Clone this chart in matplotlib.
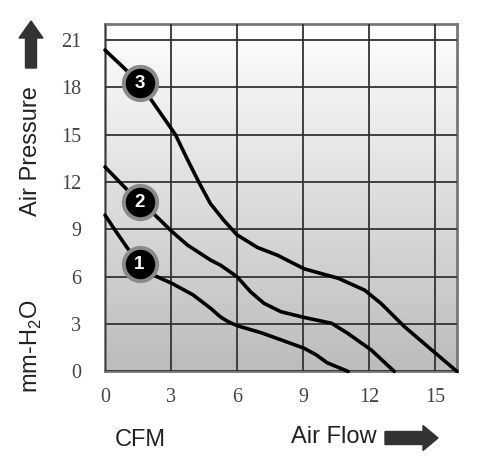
import numpy as np
import matplotlib.pyplot as plt
from matplotlib.colors import LinearSegmentedColormap
from matplotlib.patches import FancyArrow

# fan curves (CFM, mm-H2O)
c1_x = [0, 0.53, 1.0, 1.57, 2.2, 3.05, 4.0, 4.8, 5.25, 5.6, 6.0, 7.1, 8.0, 9.05, 9.6, 10.1, 11.05]
c1_y = [9.9, 8.8, 7.85, 6.8, 6.1, 5.57, 4.85, 4.0, 3.45, 3.15, 2.9, 2.45, 2.0, 1.47, 1.05, 0.55, 0]
c2_x = [0, 0.8, 1.57, 2.2, 3.05, 3.75, 4.8, 5.25, 6.0, 6.62, 7.23, 8.0, 9.05, 10.3, 11.05, 12.1, 13.15]
c2_y = [12.95, 11.8, 10.7, 10.0, 8.85, 8.0, 7.05, 6.73, 6.0, 5.04, 4.31, 3.78, 3.42, 3.05, 2.4, 1.36, 0]
c3_x = [0, 0.8, 1.57, 2.05, 2.6, 3.2, 3.73, 4.26, 4.79, 5.4, 6.0, 6.93, 7.84, 9.05,
        10.6, 11.8, 12.55, 13.6, 14.85, 16.0]
c3_y = [20.35, 19.3, 18.25, 17.3, 16.2, 15.0, 13.47, 12.0, 10.63, 9.57, 8.65, 7.85, 7.36, 6.5,
        5.9, 5.15, 4.3, 2.85, 1.36, 0]

labels = ['1', '2', '3']
label_x = [1.57, 1.57, 1.57]
label_y = [6.8, 10.7, 18.25]

x_ticks = [0, 3, 6, 9, 12, 15]
y_ticks = [0, 3, 6, 9, 12, 15, 18, 21]

fig = plt.figure(figsize=(5, 4.62), dpi=100)
ax = fig.add_axes([0.21, 0.196, 0.704, 0.752])

# grey gradient background
grad = np.linspace(0, 1, 256).reshape(-1, 1)
cmap = LinearSegmentedColormap.from_list('g', ['#bcbcbc', '#ffffff'])
ax.imshow(grad, cmap=cmap, extent=[0, 16, 0, 22], aspect='auto', origin='lower', zorder=0)

ax.set_xlim(0, 16)
ax.set_ylim(0, 22)
ax.set_xticks(x_ticks)
ax.set_yticks(y_ticks)
ax.grid(True, color='#333333', linewidth=1.3, zorder=1)
ax.set_axisbelow(False)
for s in ax.spines.values():
    s.set_color('#777777')
    s.set_linewidth(2)
ax.tick_params(length=0, labelsize=14.5, colors='#444444')
ax.tick_params(axis='x', pad=12)
ax.tick_params(axis='y', pad=17)
for lab in ax.get_xticklabels() + ax.get_yticklabels():
    lab.set_family('Liberation Serif')

for xs, ys in [(c1_x, c1_y), (c2_x, c2_y), (c3_x, c3_y)]:
    ax.plot(xs, ys, color='black', linewidth=2.6, solid_joinstyle='round',
            solid_capstyle='round', zorder=3, clip_on=False)

for t, lx, ly in zip(labels, label_x, label_y):
    ax.plot(lx, ly, 'o', markersize=24, markerfacecolor='black',
            markeredgecolor='#8a8a8a', markeredgewidth=2.8, zorder=4)
    ax.text(lx, ly, t, color='white', fontsize=13.5, fontweight='bold',
            ha='center', va='center', zorder=5, family='Liberation Sans')

# axis captions
cap = dict(fontsize=17, family='Liberation Sans', color='#222222', ha='center', va='center')
fig.text(31 / 500, 1 - 151 / 462, 'Air Pressure', rotation=90, **cap)
fig.text(31 / 500, 1 - 346 / 462, 'mm-H$_\\mathregular{2}$O', rotation=90, **cap)
fig.text(140 / 500, 1 - 440 / 462, 'CFM', **cap)
fig.text(334 / 500, 1 - 437 / 462, 'Air Flow', **cap)

# arrows
fig.patches.append(FancyArrow(31 / 500, 1 - 68 / 462, 0, 47 / 462, width=11 / 500,
                              head_width=24 / 500, head_length=17 / 462, color='#333333',
                              length_includes_head=True, transform=fig.transFigure))
fig.patches.append(FancyArrow(385 / 500, 1 - 438 / 462, 53 / 500, 0, width=13 / 462,
                              head_width=25 / 462, head_length=15 / 500, color='#333333',
                              length_includes_head=True, transform=fig.transFigure))

fig.savefig('out.png', dpi=100)
